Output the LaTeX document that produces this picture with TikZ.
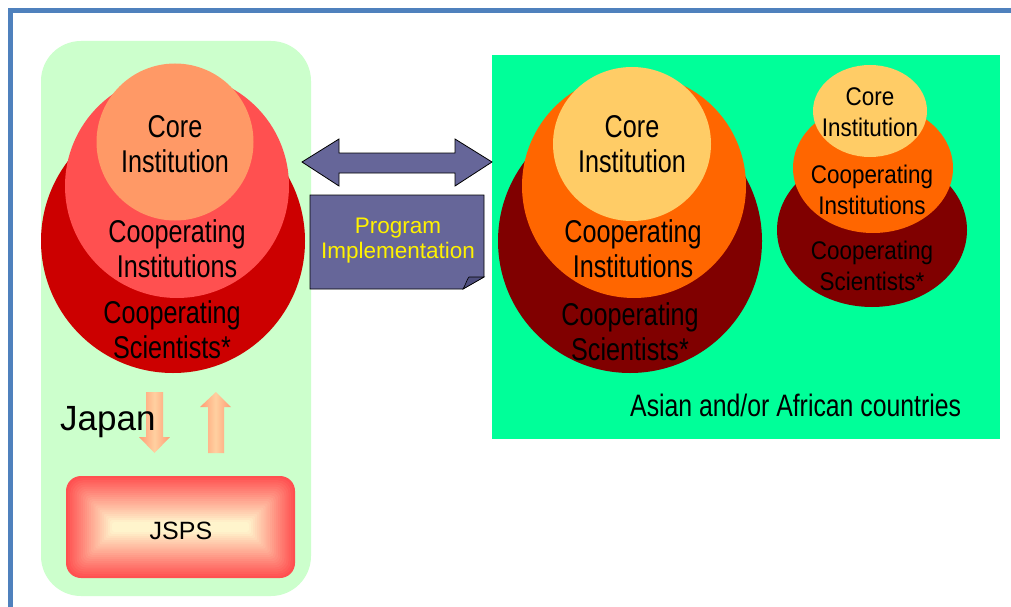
\documentclass[tikz,border=0pt]{standalone}
\usepackage{fontspec}
\setmainfont{Liberation Sans}
\newfontfamily\nar{Liberation Sans}[FakeStretch=0.8]
\newfontfamily\narb{Liberation Sans}[FakeStretch=0.88]
\definecolor{frameblue}{HTML}{4F81BD}
\definecolor{japangreen}{HTML}{CCFFCC}
\definecolor{asiagreen}{HTML}{00FF99}
\definecolor{jdark}{HTML}{CC0000}
\definecolor{jmid}{HTML}{FF5050}
\definecolor{jcore}{HTML}{FF9966}
\definecolor{amaroon}{HTML}{800000}
\definecolor{aorange}{HTML}{FF6600}
\definecolor{acore}{HTML}{FFCC66}
\definecolor{progblue}{HTML}{666699}
\definecolor{progfold}{HTML}{4E4E7E}
\definecolor{cream}{HTML}{FFF4CC}
\definecolor{arrowedge}{HTML}{FF9C74}
\definecolor{arrowmid}{HTML}{FFD0A0}
\tikzset{
  bigtxt/.style={font=\nar\fontsize{31.5}{35}\selectfont, align=center, anchor=base, inner sep=0pt},
  smalltxt/.style={font=\narb\fontsize{25.5}{31}\selectfont, align=center, anchor=base, inner sep=0pt},
  progtxt/.style={font=\fontsize{22.5}{25}\selectfont, text=yellow, align=center, anchor=base, inner sep=0pt},
  shadearrow/.style={left color=arrowedge, right color=arrowedge, middle color=arrowmid}
}
\begin{document}
\begin{tikzpicture}[x=1pt,y=-1pt]
\useasboundingbox (0,0) rectangle (1011,607);
\fill[white] (0,0) rectangle (1011,607);
% frame
\draw[frameblue, line width=5pt] (10.5,610) -- (10.5,10.5) -- (1015,10.5);
% panels
\fill[japangreen, rounded corners=40pt] (41,41) rectangle (311,596);
\fill[asiagreen] (492,55) rectangle (1000,439);
% Japan circles
\fill[jdark] (173,241) circle[radius=132];
\fill[jmid] (177,186) circle[radius=112];
\fill[jcore] (175,142) circle[radius=78.5];
\node[bigtxt] (jci) at (175,172) {Core\\Institution};
\node[bigtxt] (jcoi) at (177,277) {Cooperating\\Institutions};
\node[bigtxt] (jcos) at (172,358) {Cooperating\\Scientists*};
% Asian big group
\fill[amaroon] (630,241) circle[radius=132];
\fill[aorange] (634,186) circle[radius=112];
\fill[acore] (632,144) ellipse[x radius=79, y radius=77];
\node[bigtxt] (aci) at (632,172) {Core\\Institution};
\node[bigtxt] (acoi) at (633,277) {Cooperating\\Institutions};
\node[bigtxt] (acos) at (630,360) {Cooperating\\Scientists*};
% Asian small group
\fill[amaroon] (872,230) ellipse[x radius=95, y radius=77];
\fill[aorange] (873,168) ellipse[x radius=80, y radius=65];
\fill[acore] (870,111) ellipse[x radius=57, y radius=46];
\node[smalltxt] (bci) at (870,136) {Core\\Institution};
\node[smalltxt] (bcoi) at (872,214) {Cooperating\\Institutions};
\node[smalltxt] (bcos) at (872,290) {Cooperating\\Scientists*};
\node[font=\nar\fontsize{31}{34}\selectfont, anchor=base west, inner sep=0pt] (asia) at (630,416) {Asian and/or African countries};
% double arrow
\draw[fill=progblue, draw=black, line width=0.8pt, line join=miter]
  (302,162) -- (339,139) -- (339,153) -- (455,153) -- (455,139) -- (492,162)
  -- (455,186) -- (455,173) -- (339,173) -- (339,186) -- cycle;
% program box
\draw[fill=progblue, draw=black, line width=0.8pt]
  (310,195) -- (484,195) -- (484,277) -- (463,289) -- (310,289) -- cycle;
\draw[fill=progfold, draw=black, line width=0.6pt]
  (463,289) .. controls (466,284) and (467,279) .. (469,277) -- (484,277) -- cycle;
\node[progtxt] (prog) at (398,258) {Program\\Implementation};
% JSPS box with rectangular gradient
\foreach \i in {0,...,22}{
  \pgfmathsetmacro{\p}{min(100,\i*4.6)}
  \pgfmathsetmacro{\d}{\i*2.1}
  \pgfmathsetmacro{\r}{max(15-\d*0.5,2)}
  \fill[cream!\p!jmid, rounded corners=\r pt] (66+\d,476+\d) rectangle (295-\d,578-\d);
}
\node[font=\fontsize{25}{30}\selectfont, anchor=base, inner sep=0pt] (jsps) at (181,539) {JSPS};
% Japan arrows
\shade[shadearrow] (146,392) -- (163,392) -- (163,437) -- (170,437) -- (154.5,453) -- (139,437) -- (146,437) -- cycle;
\shade[shadearrow] (208,453) -- (224,453) -- (224,407) -- (231,407) -- (216,392) -- (200,407) -- (208,407) -- cycle;
\node[font=\fontsize{35}{40}\selectfont, anchor=base west, inner sep=0pt] (japan) at (60,430) {Japan};
\end{tikzpicture}
\end{document}
